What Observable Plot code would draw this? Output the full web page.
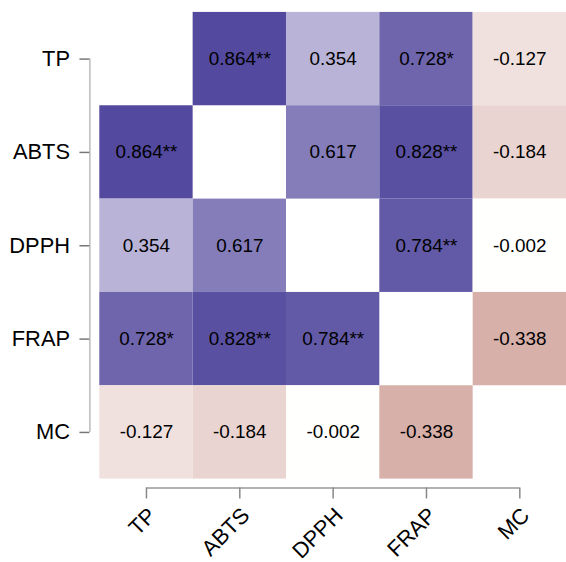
<!DOCTYPE html>
<html>
<head>
<meta charset="utf-8">
<script src="https://cdn.jsdelivr.net/npm/d3@7"></script>
<script src="https://cdn.jsdelivr.net/npm/@observablehq/plot@0.6"></script>
<style>
  html, body { margin: 0; padding: 0; background: #fff; overflow: hidden; }
  #chart svg { display: block; }
</style>
</head>
<body>
<div id="chart"></div>
<script>
const vars = ["TP", "ABTS", "DPPH", "FRAP", "MC"];
// correlation matrix (row = y variable, column = x variable); diagonal empty
const corr = [
  [null,   0.864,  0.354,  0.728, -0.127],
  [0.864,  null,   0.617,  0.828, -0.184],
  [0.354,  0.617,  null,   0.784, -0.002],
  [0.728,  0.828,  0.784,  null,  -0.338],
  [-0.127, -0.184, -0.002, -0.338, null]
];
const sig = [
  ["",   "**", "",   "*",  ""],
  ["**", "",   "",   "**", ""],
  ["",   "",   "",   "**", ""],
  ["*",  "**", "**", "",   ""],
  ["",   "",   "",   "",   ""]
];

const cells = [];
corr.forEach((row, j) => row.forEach((v, i) => {
  if (v !== null) cells.push({i, j, v, label: v.toFixed(3) + sig[j][i]});
}));
const idx = vars.map((_, k) => k);

const chart = Plot.plot({
  width: 570,
  height: 562,
  marginLeft: 100,
  marginRight: 0,
  marginTop: 12,
  marginBottom: 80,
  style: {fontFamily: "'Liberation Sans', Arial, sans-serif", background: "#fff"},
  x: {domain: [-0.5, vars.length - 0.5], axis: null},
  y: {domain: [-0.5, vars.length - 0.5], reverse: true, axis: null},
  color: {type: "linear", domain: [-1, 0, 1], range: ["#8c1504", "#ffffff", "#382c8f"], interpolate: "rgb"},
  marks: [
    Plot.rect(cells, {x1: d => d.i - 0.5, x2: d => d.i + 0.5, y1: d => d.j - 0.5, y2: d => d.j + 0.5, fill: "v"}),
    Plot.text(cells, {x: "i", y: "j", text: "label", fontSize: 19, fill: "#000"}),
    Plot.ruleX([-0.5], {y1: 0, y2: vars.length - 1, dx: -10, stroke: "#bbb", strokeWidth: 1.5}),
    Plot.ruleY([vars.length - 0.5], {x1: 0, x2: vars.length - 1, dy: 9, stroke: "#999", strokeWidth: 1.5}),
    Plot.axisY({ticks: idx, tickFormat: k => vars[k], tickSize: 10, dx: -10, tickPadding: 10, fontSize: 22, stroke: "#777", strokeWidth: 1.5, fill: "#000", label: null}),
    Plot.axisX({anchor: "bottom", ticks: idx, tickFormat: () => "", tickSize: 11, dy: 9, stroke: "#888", strokeWidth: 1.5, label: null}),
    Plot.axisX({anchor: "bottom", ticks: idx, tickFormat: k => vars[k], tickSize: 0, dx: 6, dy: 27, tickPadding: 6, tickRotate: -45, fontSize: 22, fill: "#000", label: null})
  ]
});
document.getElementById("chart").appendChild(chart);
</script>
</body>
</html>
